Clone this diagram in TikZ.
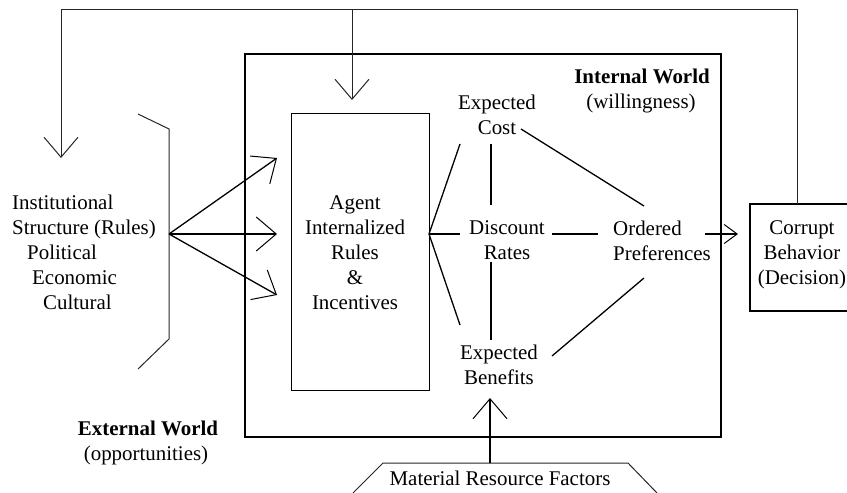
\documentclass[tikz,border=0pt]{standalone}
\usepackage{fontspec}
\setmainfont{Liberation Serif}
\usetikzlibrary{arrows.meta}
\begin{document}
\begin{tikzpicture}[x=1bp,y=-1bp,
  txt/.style={inner sep=0pt, font=\fontsize{21}{25}\selectfont, align=center},
  btxt/.style={inner sep=0pt, font=\fontsize{21}{25}\selectfont\bfseries, anchor=base},
  ltxt/.style={inner sep=0pt, font=\fontsize{21}{25}\selectfont, anchor=base west},
  thinline/.style={line width=1bp, black!85},
  conn/.style={line width=1.3bp},
  barb/.style={-{Straight Barb[length=20bp,width=34bp,line width=1bp]}},
  smallbarb/.style={-{Straight Barb[length=13bp,width=19bp,line width=1bp]}},
  thickbox/.style={draw, line width=2bp, inner sep=0pt},
]
\useasboundingbox (0,0) rectangle (847,493);

% boxes
\node[thickbox, minimum width=476bp, minimum height=383bp] (world) at (483,245.5) {};
\node[draw, line width=1bp, inner sep=0pt, minimum width=138bp, minimum height=276bp] (agent) at (360,252) {};
\coordinate (cbtr) at (847,204);
\coordinate (cbtl) at (750,204);
\coordinate (cbbl) at (750,311);
\coordinate (cbbr) at (847,311);
\draw[line width=1.8bp] (cbtr) -- (cbtl) -- (cbbl) -- (cbbr);

% texts
\node[ltxt] (inst1) at (12,210) {Institutional};
\node[ltxt] (inst2) at (12,235) {Structure (Rules)};
\node[ltxt] (pol) at (27,260) {Political};
\node[ltxt] (eco) at (32,285) {Economic};
\node[ltxt] (cul) at (43,310) {Cultural};

\node[txt] (agenttxt) at (355,253) {Agent\\Internalized\\Rules\\\&\\Incentives};
\node[txt] (ecost) at (497,114.5) {Expected\\Cost};
\node[btxt] (iw) at (642,84) {Internal World};
\node[txt, anchor=base] (will) at (641,109) {(willingness)};
\node[txt] (disc) at (507,240.5) {Discount\\Rates};
\node[txt, align=left, anchor=west] (ord) at (613,240.5) {Ordered\\Preferences};
\node[txt] (corr) at (802,255) {Corrupt\\Behavior\\(Decision)};
\node[txt] (eben) at (499,364.5) {Expected\\Benefits};
\node[btxt] (ew) at (148,435) {External World};
\node[txt, anchor=base] (opp) at (146,460) {(opportunities)};
\node[txt, anchor=base] (mat) at (500,485) {Material Resource Factors};

% bracket
\coordinate (br1) at (138,114);
\coordinate (br2) at (169,129);
\coordinate (src) at (169,234);
\coordinate (br3) at (169,339);
\coordinate (br4) at (138,369);
\draw[thinline] (br1) -- (br2) -- (br3) -- (br4);

% institutional arrows
\coordinate (a1) at (277,158);
\coordinate (a2) at (277,234);
\coordinate (a3) at (277,295);
\draw[conn, barb] (src) -- (a1);
\draw[conn, barb] (src) -- (a2);
\draw[conn, barb] (src) -- (a3);

% internal connections
\coordinate (hub) at (429,234);
\coordinate (ecl) at (460,144);
\coordinate (dl) at (460,234);
\coordinate (ebl) at (460,325);
\coordinate (ecb) at (491,144);
\coordinate (dt) at (491,205);
\coordinate (db) at (491,262);
\coordinate (ebt) at (491,340);
\coordinate (dr) at (552,234);
\coordinate (ol) at (598,234);
\coordinate (ecr) at (521,129);
\coordinate (ot) at (644,206);
\coordinate (ebr) at (552,356);
\coordinate (ob) at (644,278);
\coordinate (orr) at (705,234);
\coordinate (cin) at (738,234);
\draw[conn] (hub) -- (ecl);
\draw[conn] (hub) -- (dl);
\draw[conn] (hub) -- (ebl);
\draw[conn] (ecb) -- (dt);
\draw[conn] (db) -- (ebt);
\draw[conn] (dr) -- (ol);
\draw[conn] (ecr) -- (ot);
\draw[conn] (ebr) -- (ob);
\draw[conn, smallbarb] (orr) -- (cin);

% material resource factors
\coordinate (m1) at (353,493);
\coordinate (m2) at (383,463);
\coordinate (m3) at (628,463);
\coordinate (m4) at (657,493);
\coordinate (mup) at (490,463);
\coordinate (mtip) at (490,398);
\draw[thinline] (m1) -- (m2) -- (m3) -- (m4);
\draw[conn, barb] (mup) -- (mtip);

% feedback loop
\coordinate (fb0) at (797,204);
\coordinate (fb1) at (797,10);
\coordinate (fb2) at (61,10);
\coordinate (fbtip) at (61,158);
\coordinate (fbm) at (352,10);
\coordinate (fbmtip) at (352,100);
\draw[thinline, barb] (fb0) -- (fb1) -- (fb2) -- (fbtip);
\draw[thinline, barb] (fbm) -- (fbmtip);
\end{tikzpicture}
\end{document}
